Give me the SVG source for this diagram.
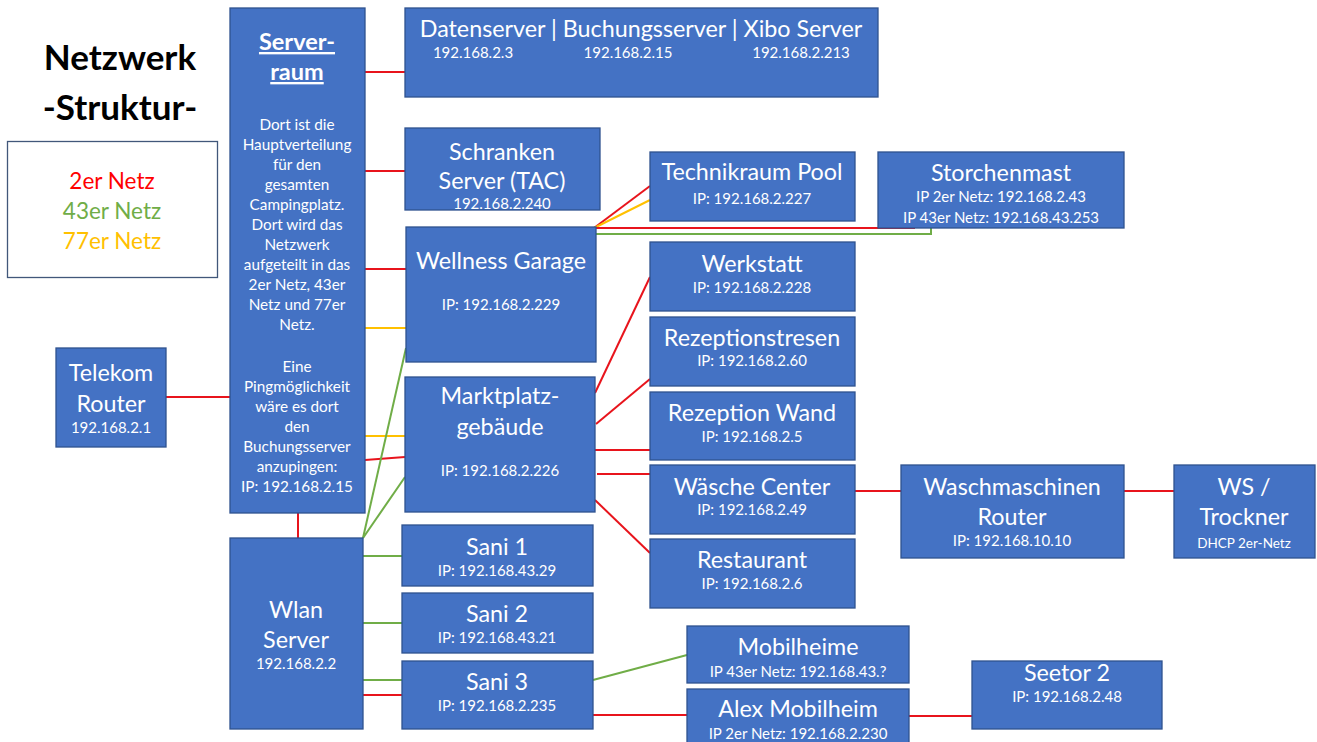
<svg xmlns="http://www.w3.org/2000/svg" width="1317" height="742" viewBox="0 0 1317 742">
<style>
.n{fill:#4472C4;stroke:#2F528F;stroke-width:1.3}
text{font-family:Lato,"Open Sans","Liberation Sans",sans-serif;fill:#fff;text-anchor:middle}
.t{font-size:23.3px}
.s{font-size:15px}
.b{font-size:15.3px}
.r{stroke:#E8141C;stroke-width:2;fill:none}
.g{stroke:#70AD47;stroke-width:2;fill:none}
.y{stroke:#FFC000;stroke-width:2;fill:none}
</style>
<rect width="1317" height="742" fill="#fff"/>
<g id="title">
<text x="120" y="70" style="font-size:35px;font-weight:bold;fill:#000">Netzwerk</text>
<text x="120" y="120" style="font-size:35px;font-weight:bold;fill:#000">-Struktur-</text>
</g>
<g id="legend">
<rect x="7.5" y="141.5" width="210" height="136" fill="#fff" stroke="#41577A" stroke-width="1.3"/>
<text x="112" y="189" style="font-size:22.5px;fill:#FF0000">2er Netz</text>
<text x="112" y="219" style="font-size:22.5px;fill:#70AD47">43er Netz</text>
<text x="112" y="249" style="font-size:22.5px;fill:#FFC000">77er Netz</text>
</g>
<g id="connectors">
<line class="r" x1="365" y1="72" x2="405" y2="72"/>
<line class="r" x1="365" y1="171" x2="405" y2="171"/>
<line class="r" x1="365" y1="269" x2="406" y2="269"/>
<line class="y" x1="365" y1="328" x2="406" y2="328"/>
<line class="y" x1="365" y1="436" x2="405" y2="436"/>
<line class="r" x1="365" y1="460" x2="405" y2="457"/>
<line class="r" x1="166" y1="397" x2="230" y2="397"/>
<line class="r" x1="298" y1="513" x2="298" y2="538"/>
<line class="g" x1="363" y1="538" x2="406" y2="348"/>
<line class="g" x1="363" y1="538" x2="405" y2="477"/>
<line class="r" x1="594" y1="228" x2="650" y2="186"/>
<line class="y" x1="594" y1="228" x2="650" y2="200"/>
<line class="r" x1="596" y1="228" x2="915" y2="228"/>
<polyline class="g" points="596,234 931,234 931,228"/>
<line class="r" x1="595" y1="393" x2="650" y2="277"/>
<line class="r" x1="596" y1="424" x2="650" y2="379"/>
<line class="r" x1="595" y1="450" x2="650" y2="450"/>
<line class="r" x1="597" y1="474" x2="650" y2="474"/>
<line class="r" x1="595" y1="500" x2="650" y2="553"/>
<line class="r" x1="855" y1="491" x2="901" y2="491"/>
<line class="r" x1="1124" y1="491" x2="1174" y2="491"/>
<line class="g" x1="363" y1="556" x2="402" y2="556"/>
<line class="g" x1="363" y1="623" x2="402" y2="623"/>
<line class="g" x1="363" y1="680" x2="405" y2="680"/>
<line class="r" x1="363" y1="695" x2="402" y2="695"/>
<line class="g" x1="593" y1="680" x2="687" y2="655"/>
<line class="r" x1="590" y1="715" x2="687" y2="715"/>
<line class="r" x1="909" y1="716" x2="972" y2="716"/>
</g>
<g id="serverraum">
<rect class="n" x="230" y="8" width="135" height="505"/>
<text x="297" y="50" style="font-size:23.5px;font-weight:bold;text-decoration:underline">Server-</text>
<text x="297" y="80" style="font-size:23.5px;font-weight:bold;text-decoration:underline">raum</text>
<text class="b" x="297" y="130">Dort ist die</text>
<text class="b" x="297" y="150">Hauptverteilung</text>
<text class="b" x="297" y="170">für den</text>
<text class="b" x="297" y="190">gesamten</text>
<text class="b" x="297" y="210">Campingplatz.</text>
<text class="b" x="297" y="230">Dort wird das</text>
<text class="b" x="297" y="250">Netzwerk</text>
<text class="b" x="297" y="270">aufgeteilt in das</text>
<text class="b" x="297" y="290">2er Netz, 43er</text>
<text class="b" x="297" y="310">Netz und 77er</text>
<text class="b" x="297" y="330">Netz.</text>
<text class="b" x="297" y="372">Eine</text>
<text class="b" x="297" y="392">Pingmöglichkeit</text>
<text class="b" x="297" y="412">wäre es dort</text>
<text class="b" x="297" y="432">den</text>
<text class="b" x="297" y="452">Buchungsserver</text>
<text class="b" x="297" y="472">anzupingen:</text>
<text class="b" x="297" y="492">IP: 192.168.2.15</text>
</g>
<g id="datenserver">
<rect class="n" x="405" y="8" width="473" height="89"/>
<text class="t" x="641" y="37">Datenserver | Buchungsserver | Xibo Server</text>
<text class="s" x="473" y="58">192.168.2.3</text>
<text class="s" x="628" y="58">192.168.2.15</text>
<text class="s" x="801" y="58">192.168.2.213</text>
</g>
<g id="schranken">
<rect class="n" x="405" y="128" width="195" height="82"/>
<text class="t" x="502" y="160">Schranken</text>
<text class="t" x="502" y="189">Server (TAC)</text>
<text class="s" x="502" y="209">192.168.2.240</text>
</g>
<g id="wellness">
<rect class="n" x="406" y="227" width="190" height="135"/>
<text class="t" x="501" y="269">Wellness Garage</text>
<text class="s" x="501" y="310">IP: 192.168.2.229</text>
</g>
<g id="technikraum">
<rect class="n" x="650" y="152" width="205" height="69"/>
<text class="t" x="752" y="180">Technikraum Pool</text>
<text class="s" x="752" y="204">IP: 192.168.2.227</text>
</g>
<g id="storchenmast">
<rect class="n" x="878" y="152" width="246" height="76"/>
<text class="t" x="1001" y="181">Storchenmast</text>
<text class="s" x="1001" y="202">IP 2er Netz: 192.168.2.43</text>
<text class="s" x="1001" y="223">IP 43er Netz: 192.168.43.253</text>
</g>
<g id="werkstatt">
<rect class="n" x="650" y="242" width="205" height="69"/>
<text class="t" x="752" y="272">Werkstatt</text>
<text class="s" x="752" y="293">IP: 192.168.2.228</text>
</g>
<g id="rezeptionstresen">
<rect class="n" x="650" y="317" width="205" height="69"/>
<text class="t" x="752" y="346">Rezeptionstresen</text>
<text class="s" x="752" y="366">IP: 192.168.2.60</text>
</g>
<g id="rezeptionwand">
<rect class="n" x="650" y="392" width="205" height="68"/>
<text class="t" x="752" y="421">Rezeption Wand</text>
<text class="s" x="752" y="442">IP: 192.168.2.5</text>
</g>
<g id="waeschecenter">
<rect class="n" x="650" y="465" width="205" height="69"/>
<text class="t" x="752" y="495">Wäsche Center</text>
<text class="s" x="752" y="515">IP: 192.168.2.49</text>
</g>
<g id="restaurant">
<rect class="n" x="650" y="539" width="205" height="69"/>
<text class="t" x="752" y="568">Restaurant</text>
<text class="s" x="752" y="589">IP: 192.168.2.6</text>
</g>
<g id="waschrouter">
<rect class="n" x="901" y="465" width="223" height="93"/>
<text class="t" x="1012" y="495">Waschmaschinen</text>
<text class="t" x="1012" y="525">Router</text>
<text class="s" x="1012" y="546">IP: 192.168.10.10</text>
</g>
<g id="trockner">
<rect class="n" x="1174" y="465" width="141" height="93"/>
<text class="t" x="1244" y="495">WS /</text>
<text class="t" x="1244" y="525">Trockner</text>
<text x="1244" y="548" style="font-size:13.5px">DHCP 2er-Netz</text>
</g>
<g id="marktplatz">
<rect class="n" x="405" y="377" width="190" height="135"/>
<text class="t" x="500" y="404">Marktplatz-</text>
<text class="t" x="500" y="435">gebäude</text>
<text class="s" x="500" y="476">IP: 192.168.2.226</text>
</g>
<g id="telekom">
<rect class="n" x="56" y="348" width="110" height="99"/>
<text class="t" x="111" y="381">Telekom</text>
<text class="t" x="111" y="412">Router</text>
<text class="s" x="111" y="433">192.168.2.1</text>
</g>
<g id="wlan">
<rect class="n" x="230" y="538" width="133" height="191"/>
<text class="t" x="296" y="618">Wlan</text>
<text class="t" x="296" y="648">Server</text>
<text class="s" x="296" y="669">192.168.2.2</text>
</g>
<g id="sani1">
<rect class="n" x="402" y="525" width="191" height="61"/>
<text class="t" x="497" y="555">Sani 1</text>
<text class="s" x="497" y="576">IP: 192.168.43.29</text>
</g>
<g id="sani2">
<rect class="n" x="402" y="593" width="191" height="60"/>
<text class="t" x="497" y="622">Sani 2</text>
<text class="s" x="497" y="643">IP: 192.168.43.21</text>
</g>
<g id="sani3">
<rect class="n" x="402" y="661" width="191" height="68"/>
<text class="t" x="497" y="690">Sani 3</text>
<text class="s" x="497" y="711">IP: 192.168.2.235</text>
</g>
<g id="mobilheime">
<rect class="n" x="687" y="626" width="222" height="57"/>
<text class="t" x="798" y="655">Mobilheime</text>
<text class="s" x="798" y="677">IP 43er Netz: 192.168.43.?</text>
</g>
<g id="alex">
<rect class="n" x="687" y="689" width="222" height="60"/>
<text class="t" x="798" y="717">Alex Mobilheim</text>
<text class="s" x="798" y="739">IP 2er Netz: 192.168.2.230</text>
</g>
<g id="seetor">
<rect class="n" x="972" y="661" width="190" height="68"/>
<text class="t" x="1067" y="681">Seetor 2</text>
<text class="s" x="1067" y="702">IP: 192.168.2.48</text>
</g>
</svg>
